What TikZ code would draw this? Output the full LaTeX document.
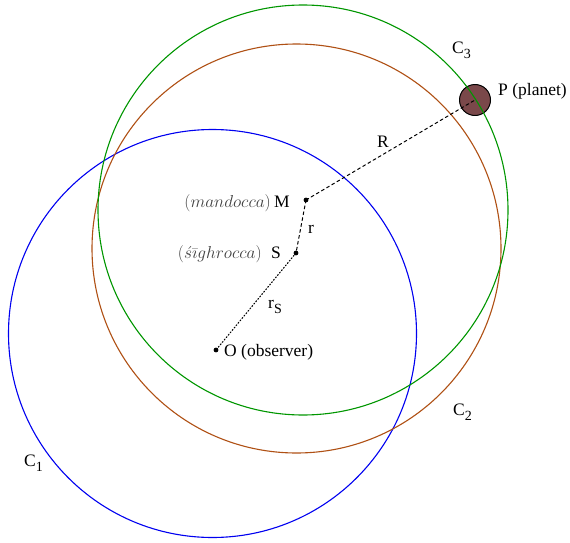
\documentclass[tikz,border=0pt]{standalone}
\usepackage{fontspec}
\setmainfont{Liberation Serif}
\definecolor{cblue}{RGB}{0,0,240}
\definecolor{cbrown}{RGB}{175,80,20}
\definecolor{cgreen}{RGB}{0,150,0}
\definecolor{planet}{RGB}{122,72,74}
\newcommand\lsub[1]{\raisebox{-0.7ex}{\fontsize{14}{14}\selectfont #1}}
\tikzset{
	orbit/.style={line width=1.1pt},
	pt/.style={fill=black},
	lab/.style={inner sep=0pt, anchor=base west},
	hint/.style={inner sep=0pt, anchor=base east, text=black!75, font=\fontsize{16.5}{17}\selectfont}
}
\begin{document}
\begin{tikzpicture}[x=1pt, y=-1pt, font=\fontsize{17.5}{19}\selectfont, line join=round, line cap=round]
	\useasboundingbox (0,0) rectangle (570,543);
	\coordinate (O) at (216,350);
	\coordinate (S) at (296,253);
	\coordinate (M) at (306,200);
	\coordinate (P) at (475,100);
	% planet
	\draw[fill=planet, line width=1pt] (P) circle (15.5);
	% deferent circles
	\draw[orbit, cblue] (212.5,333.5) circle (204);
	\draw[orbit, cbrown] (296.5,248.5) circle (204.5);
	\draw[orbit, cgreen] (303,210) circle (205);
	\draw[dashed, line width=1pt] (M) -- (P);
	\draw[dashed, line width=1pt] (M) -- (S);
	\draw[dotted, line width=1.1pt] (S) -- (O);
	\foreach \p in {O,S,M} \fill[pt] (\p) circle (2.4);
	% labels
	\node[lab] (Rl) at (377,147) {R};
	\node[lab] (rl) at (308,233) {r};
	\node[lab] (rSl) at (268,308) {r\lsub{S}};
	\node[lab] (Ol) at (224,356) {O (observer)};
	\node[lab] (Pl) at (498,95) {P (planet)};
	\node[inner sep=0pt, anchor=base east] (Ml) at (290,207) {M};
	\node[hint] (mand) at ([xshift=-3pt]Ml.base west) {$(mandocca)$};
	\node[inner sep=0pt, anchor=base east] (Sl) at (281,258) {S};
	\node[hint] (sigh) at ([xshift=-9pt]Sl.base west) {$(\acute{s}\bar{\imath}ghrocca)$};
	\node[lab] (c3) at (452,53) {C\lsub{3}};
	\node[lab] (c2) at (453,415) {C\lsub{2}};
	\node[lab] (c1) at (24,466) {C\lsub{1}};
\end{tikzpicture}
\end{document}
